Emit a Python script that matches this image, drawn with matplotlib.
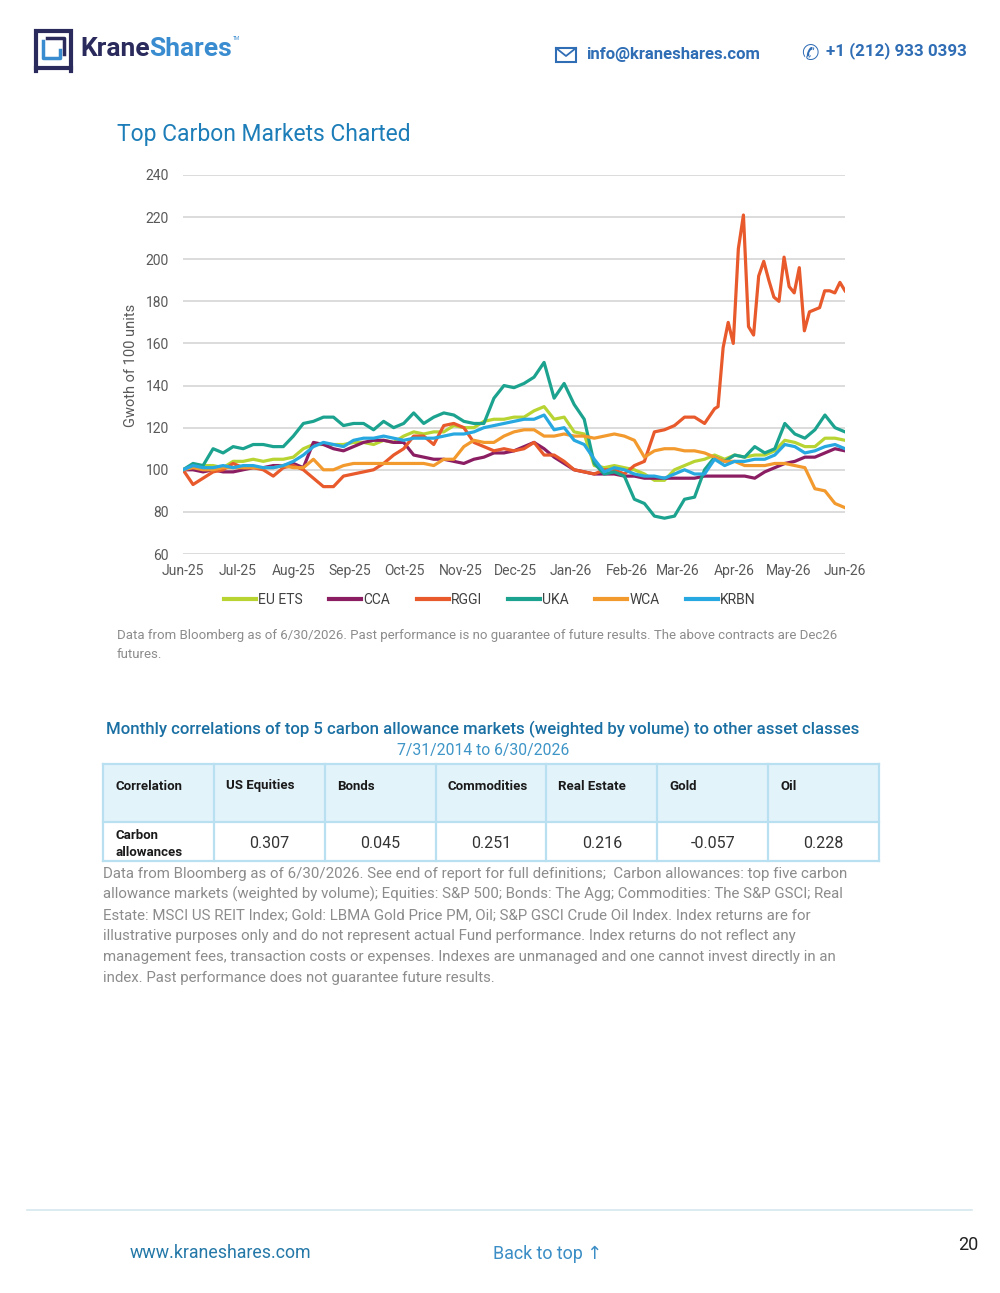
import numpy as np
import pandas as pd
import matplotlib
matplotlib.use("Agg")
from matplotlib import pyplot as plt
import matplotlib.dates as mdates
from matplotlib.patches import Rectangle
from matplotlib.lines import Line2D

W, H = 1000, 1293

#%% data (~5.5 day spacing)
dates = pd.date_range("2025-06-01", "2026-06-01", periods=67)

eu_ets = [100, 101, 102, 102, 101, 104, 104, 105, 104, 105, 105, 106, 110, 112, 112, 112, 112,
          113, 113, 112, 114, 113, 116, 118, 117, 118, 118, 121, 120, 120, 123, 124, 124, 125,
          125, 128, 130, 124, 125, 118, 117, 102, 101, 102, 101, 100, 98, 95, 95, 100, 102, 104,
          105, 107, 105, 107, 106, 107, 107, 109, 114, 113, 111, 111, 115, 115, 114]
cca = [100, 100, 99, 100, 99, 99, 100, 101, 101, 102, 102, 103, 101, 113, 112, 110, 109,
       111, 113, 114, 114, 113, 113, 107, 106, 105, 105, 104, 103, 105, 106, 108, 108, 109,
       111, 113, 110, 106, 103, 100, 99, 98, 98, 98, 97, 97, 96, 96, 96, 96, 96, 96,
       97, 97, 97, 97, 97, 96, 99, 101, 103, 104, 106, 106, 108, 110, 109]
rggi_head = [100, 93, 96, 99, 100, 103, 101, 101, 100, 97, 101, 102, 100, 96, 92, 92, 97,
             98, 99, 100, 103, 107, 110, 116, 116, 112, 121, 122, 120, 113, 111, 109, 110, 109,
             110, 113, 107, 107, 104, 100, 99, 98, 100, 100, 98, 102, 104, 118, 119, 121, 125, 125,
             122, 129]
# RGGI moves a lot from April on, so it gets a denser tail
rggi_tail_dates = pd.date_range("2026-03-23", "2026-06-01", periods=26)
rggi_tail = [130, 158, 170, 160, 205, 221, 168, 164, 192, 199, 190, 182, 180, 201, 187, 184,
             196, 166, 175, 176, 177, 185, 185, 184, 189, 185]
uka = [100, 103, 102, 110, 108, 111, 110, 112, 112, 111, 111, 116, 122, 123, 125, 125, 121,
       122, 122, 119, 123, 120, 122, 127, 122, 125, 127, 126, 123, 122, 122, 134, 140, 139,
       141, 144, 151, 134, 141, 131, 124, 103, 98, 99, 97, 86, 84, 78, 77, 78, 86, 87,
       100, 106, 104, 107, 106, 111, 108, 110, 122, 117, 115, 119, 126, 120, 118]
wca = [100, 101, 100, 100, 101, 101, 101, 101, 101, 101, 102, 101, 101, 105, 100, 100, 102,
       103, 103, 103, 103, 103, 103, 103, 103, 102, 105, 105, 111, 114, 113, 113, 116, 118,
       119, 119, 116, 116, 117, 116, 116, 115, 116, 117, 116, 114, 106, 109, 110, 110, 109, 109,
       108, 106, 104, 104, 102, 102, 102, 103, 103, 102, 101, 91, 90, 84, 82]
krbn = [100, 102, 101, 101, 102, 101, 102, 102, 101, 101, 102, 104, 107, 111, 113, 112, 111,
        114, 115, 115, 116, 115, 114, 115, 115, 115, 116, 117, 117, 118, 120, 121, 122, 123,
        124, 124, 126, 119, 120, 114, 112, 105, 99, 101, 100, 98, 97, 97, 96, 98, 100, 98,
        98, 105, 102, 104, 104, 105, 105, 107, 112, 111, 108, 109, 111, 112, 110]

names = ["EU ETS", "CCA", "RGGI", "UKA", "WCA", "KRBN"]
colors = ["#B7D433", "#8B1E63", "#E8592B", "#1CA38F", "#F39A2E", "#27A8E0"]
y_ticks = [60, 80, 100, 120, 140, 160, 180, 200, 220, 240]

corr_headers = ["Correlation", "US Equities", "Bonds", "Commodities", "Real Estate", "Gold", "Oil"]
corr_row = "Carbon\nallowances"
corr_values = [0.307, 0.045, 0.251, 0.216, -0.057, 0.228]

chart_note = ("Data from Bloomberg as of 6/30/2026. Past performance is no guarantee of future "
              "results. The above contracts are Dec26\nfutures.")
foot_lines = [
    "Data from Bloomberg as of 6/30/2026. See end of report for full definitions;  Carbon allowances: top five carbon",
    "allowance markets (weighted by volume); Equities: S&P 500; Bonds: The Agg; Commodities: The S&P GSCI; Real",
    "Estate: MSCI US REIT Index; Gold: LBMA Gold Price PM, Oil; S&P GSCI Crude Oil Index. Index returns are for",
    "illustrative purposes only and do not represent actual Fund performance. Index returns do not reflect any",
    "management fees, transaction costs or expenses. Indexes are unmanaged and one cannot invest directly in an",
    "index. Past performance does not guarantee future results.",
]

#%% helpers, page pixels -> figure fraction
def fx(px):
    return px / W

def fy(py):
    return 1 - py / H

plt.rcParams["font.family"] = ["Roboto", "DejaVu Sans"]

fig = plt.figure(figsize=(W / 100, H / 100), dpi=100)

def put(px, py, s, **kw):
    kw.setdefault("va", "center")
    return fig.text(fx(px), fy(py), s, **kw)

def rect(x0, y0, x1, y1, **kw):
    fig.patches.append(Rectangle((fx(x0), fy(y1)), fx(x1) - fx(x0), fy(y0) - fy(y1),
                                 transform=fig.transFigure, **kw))

def line(xs, ys, **kw):
    fig.lines.append(Line2D([fx(x) for x in xs], [fy(y) for y in ys],
                            transform=fig.transFigure, **kw))

def right_edge(t):
    r = fig.canvas.get_renderer()
    return t.get_window_extent(r).x1

#%% header
navy = "#2A2A5C"
blue = "#3A8CD0"
rect(36, 31, 71, 68, fill=False, edgecolor=navy, linewidth=3)
line([36, 36], [68, 71], color=navy, linewidth=3)
line([71, 71], [68, 71], color=navy, linewidth=3)
line([43, 43, 60, 60], [41, 58, 58, 50], color=blue, linewidth=2.5)
line([47, 64, 64], [38, 38, 54], color=navy, linewidth=2.5)
t = put(80, 49, "Krane", fontsize=19, fontweight="bold", color=navy)
t = put(right_edge(t) - 1, 49, "Shares", fontsize=19, fontweight="bold", color=blue)
put(right_edge(t) + 1, 38, "TM", fontsize=3.5, color=blue)

# envelope icon
rect(556, 48, 576, 62, fill=False, edgecolor="#2F6DB5", linewidth=1.5)
line([556, 566, 576], [48, 56, 48], color="#2F6DB5", linewidth=1.3)
put(586, 54, "info@kraneshares.com", fontsize=12, fontweight="bold", color="#2F6DB5")
put(810, 54, "✆", fontsize=15, color="#2F6DB5", ha="center", family="DejaVu Sans")
put(826, 51, "+1 (212) 933 0393", fontsize=12.2, fontweight="bold", color="#2F6DB5")

put(117, 134, "Top Carbon Markets Charted", fontsize=16.5, color="#1C7DB8")

#%% chart
ax = fig.add_axes([fx(183), fy(554), fx(845) - fx(183), fy(175) - fy(554)])
series = {
    "EU ETS": (dates, eu_ets),
    "CCA": (dates, cca),
    "RGGI": (list(dates[:len(rggi_head)]) + list(rggi_tail_dates), rggi_head + rggi_tail),
    "UKA": (dates, uka),
    "WCA": (dates, wca),
    "KRBN": (dates, krbn),
}
handles = []
for name, color in zip(names, colors):
    x, y = series[name]
    h, = ax.plot(x, y, color=color, linewidth=2.3, solid_joinstyle="round")
    handles.append(h)

ax.set_xlim(pd.Timestamp("2025-06-01"), pd.Timestamp("2026-06-01"))
ax.set_ylim(60, 240)
ax.set_yticks(y_ticks)
ax.xaxis.set_major_locator(mdates.MonthLocator())
ax.xaxis.set_major_formatter(mdates.DateFormatter("%b-%y"))
ax.grid(axis="y", color="#D9D9D9", linewidth=1.3)
ax.set_axisbelow(True)
for s in ax.spines.values():
    s.set_visible(False)
ax.tick_params(axis="both", length=0, labelsize=10, colors="#595959")
ax.tick_params(axis="y", pad=10)
ax.tick_params(axis="x", pad=7)
ax.set_facecolor("none")
put(131, 365, "Gwoth of 100 units", rotation=90, ha="center", fontsize=10.5, color="#595959")

fig.legend(handles, names, loc="center", bbox_to_anchor=(fx(490), fy(600)), ncol=6,
           frameon=False, fontsize=10, handlelength=2.3, handletextpad=0.15,
           columnspacing=1.9, labelcolor="#404040")
for h in fig.legends[0].get_lines():
    h.set_linewidth(3)

put(117, 645, chart_note, fontsize=9.5, color="#8C8C8C", linespacing=1.55)

#%% correlation table
put(483, 729, "Monthly correlations of top 5 carbon allowance markets (weighted by volume) "
    "to other asset classes", fontsize=12.1, fontweight="medium", color="#1A6FA3", ha="center")
put(483, 750, "7/31/2014 to 6/30/2026", fontsize=11.3, color="#3E95C7", ha="center")

edges = [103 + k * (879 - 103) / 7 for k in range(8)]
top, mid, bot = 764, 822, 861
border = "#B9E0F1"
rect(edges[0], top, edges[-1], mid, facecolor="#E3F3FA", edgecolor="none")
for yy in (top, mid, bot):
    line([edges[0], edges[-1]], [yy, yy], color=border, linewidth=1.6)
for xx in edges:
    line([xx, xx], [top, bot], color=border, linewidth=1.6)
for x0, head in zip(edges[:-1], corr_headers):
    put(x0 + 12, 786, head, fontsize=9.5, fontweight="bold", color="#1A1A1A")
put(edges[0] + 12, 844, corr_row, fontsize=9.5, fontweight="bold", color="#1A1A1A",
    linespacing=1.45)
for x0, x1, v in zip(edges[1:-1], edges[2:], corr_values):
    put((x0 + x1) / 2, 843, f"{v:.3f}", fontsize=11.5, color="#333333", ha="center")

for i, s in enumerate(foot_lines):
    put(103, 874 + i * 20.8, s, fontsize=10.85, color="#8C8C8C")

#%% footer
line([27, 972], [1210, 1210], color="#D6E7EE", linewidth=1.2)
put(130, 1253, "www.kraneshares.com", fontsize=12.8, color="#2478A8")
put(493, 1254, "Back to top ↑", fontsize=12.9, color="#3A8DC5")
put(968, 1245, "20", fontsize=13, color="#222222", ha="center")

fig.savefig("out.png", dpi=100)
